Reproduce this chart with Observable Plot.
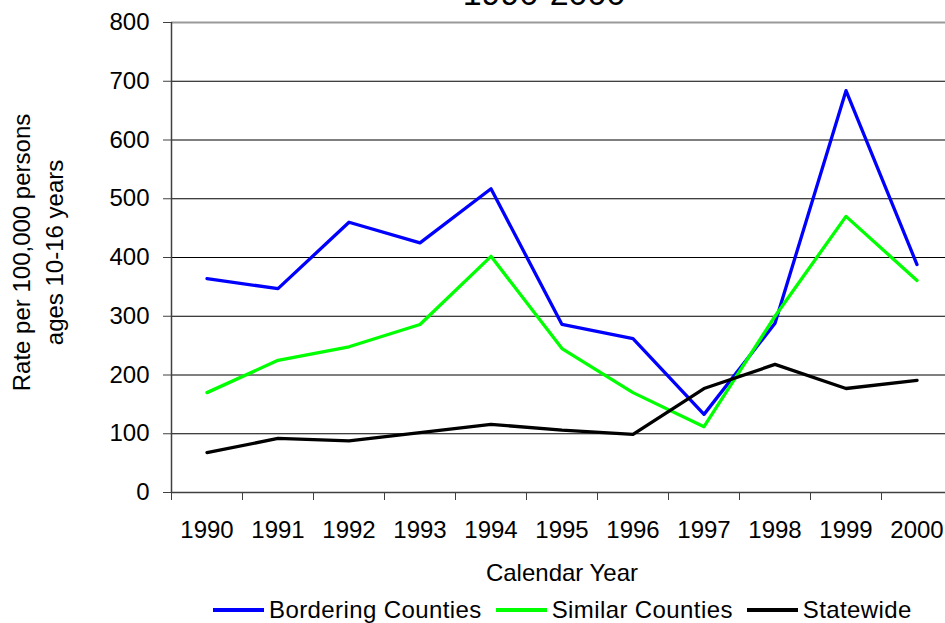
<!DOCTYPE html>
<html>
<head>
<meta charset="utf-8">
<script src="https://cdn.jsdelivr.net/npm/d3@7"></script>
<script src="https://cdn.jsdelivr.net/npm/@observablehq/plot@0.6"></script>
<style>
  html, body { margin: 0; padding: 0; background: #fff; overflow: hidden; width: 945px; height: 623px; }
  #wrap { position: relative; width: 945px; height: 623px; overflow: hidden; font-family: "Liberation Sans", Arial, sans-serif; }
  #legend { position: absolute; top: 596px; left: 213px; display: flex; align-items: center; font-size: 24px; letter-spacing: 0.4px; color: #000; white-space: nowrap; }
  .item { display: flex; align-items: center; margin-right: 14px; }
  .sw { display: inline-block; width: 51px; height: 4px; margin-right: 5px; }
</style>
</head>
<body>
<div id="wrap"></div>
<script>
const years = [1990, 1991, 1992, 1993, 1994, 1995, 1996, 1997, 1998, 1999, 2000];
const bordering = [364, 347, 460, 425, 517, 286, 262, 133, 288, 684, 388];
const similar = [170, 225, 248, 286, 402, 245, 170, 112, 300, 470, 361];
const statewide = [68, 92, 88, 102, 116, 106, 99, 177, 218, 177, 191];
const seriesNames = ["Bordering Counties", "Similar Counties", "Statewide"];
const seriesColors = ["#0000ff", "#00ff00", "#000000"];
const yTicks = [0, 100, 200, 300, 400, 500, 600, 700, 800];
const title = "1990-2000";
const xLabel = "Calendar Year";
const yLabel = "Rate per 100,000 persons\nages 10-16 years";

const seriesValues = [bordering, similar, statewide];
const rows = [];
seriesNames.forEach((name, s) => {
  years.forEach((yr, i) => rows.push({year: yr, value: seriesValues[s][i], series: name}));
});
const x0 = years[0] - 0.5, x1 = years[years.length - 1] + 0.5;
const bounds = years.map(y => y - 0.5).concat([x1]);
const innerTicks = yTicks.filter(t => t > 0 && t < yTicks[yTicks.length - 1]);
const topTick = yTicks[yTicks.length - 1];

const chart = Plot.plot({
  width: 952,
  height: 623,
  marginTop: 22,
  marginBottom: 131,
  marginLeft: 171,
  marginRight: 0,
  style: {fontFamily: "'Liberation Sans', Arial, sans-serif", fontSize: "24px", maxWidth: "none", overflow: "visible", background: "white", color: "black"},
  x: {domain: [x0, x1]},
  y: {domain: [0, topTick]},
  color: {domain: seriesNames, range: seriesColors},
  marks: [
    Plot.ruleY(innerTicks, {stroke: "#000", strokeWidth: 1}),
    Plot.ruleY([topTick], {stroke: "#9a9a9a", strokeWidth: 2}),
    Plot.ruleY([0], {stroke: "#404040", strokeWidth: 1.5}),
    Plot.ruleX([x0], {stroke: "#404040", strokeWidth: 1.5}),
    Plot.axisY(yTicks, {tickSize: 8, tickPadding: 14, label: null, fontSize: 24, stroke: "#404040"}),
    Plot.axisX(bounds, {tickSize: 8, tickFormat: () => "", label: null, stroke: "#404040"}),
    Plot.axisX(years, {tickSize: 0, tickPadding: 28, tickFormat: d => String(d), label: null, fontSize: 24}),
    Plot.line(rows, {x: "year", y: "value", z: "series", stroke: "series", strokeWidth: 3.3, strokeLinejoin: "round", strokeLinecap: "round"}),
    Plot.text([xLabel], {frameAnchor: "bottom", lineAnchor: "top", dy: 71, fontSize: 24, fill: "#000"}),
    Plot.text([yLabel], {frameAnchor: "left", textAnchor: "middle", rotate: -90, lineAnchor: "top", lineHeight: 1.38, dx: -165, dy: -5, fontSize: 24, fill: "#000"}),
    Plot.text([title], {frameAnchor: "top", lineAnchor: "bottom", dx: -18, dy: -18, fontSize: 34, fill: "#000"})
  ]
});
const wrap = document.getElementById("wrap");
wrap.appendChild(chart);

const legend = document.createElement("div");
legend.id = "legend";
seriesNames.forEach((name, i) => {
  const item = document.createElement("div");
  item.className = "item";
  const sw = document.createElement("span");
  sw.className = "sw";
  sw.style.background = seriesColors[i];
  const t = document.createElement("span");
  t.textContent = name;
  item.appendChild(sw);
  item.appendChild(t);
  legend.appendChild(item);
});
wrap.appendChild(legend);
</script>
</body>
</html>
